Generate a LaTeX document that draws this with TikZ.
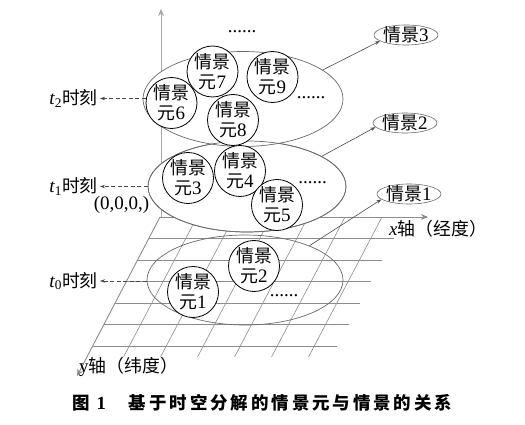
\documentclass[tikz,border=0pt]{standalone}
\usepackage{fontspec}
\setmainfont{Liberation Serif}
\newfontfamily\cjk{Noto Sans CJK SC}[Scale=0.94]
\usetikzlibrary{arrows.meta,shapes.geometric}
\definecolor{gridc}{HTML}{8C8C8C}
\definecolor{axisc}{HTML}{A8A8A8}
\definecolor{ellc}{HTML}{6A6A6A}
\definecolor{arrc}{HTML}{4A4A4A}
\newcommand\capk{\kern2.9pt}
\tikzset{
  txt/.style={font=\fontsize{19}{20}\selectfont, inner sep=0pt},
  elem/.style={circle, draw=black, line width=0.8pt, fill=white, minimum size=51pt,
    inner sep=0pt, align=center, font=\fontsize{19}{20}\selectfont},
  bigell/.style={ellipse, draw=ellc, line width=0.7pt, inner sep=0pt},
  labell/.style={ellipse, draw=ellc, line width=0.6pt, inner sep=0pt,
    minimum width=64pt, minimum height=20pt},
  gridline/.style={draw=gridc, line width=0.6pt},
  axisline/.style={draw=axisc, line width=0.9pt, -{Stealth[length=7pt,width=6pt]}},
  conn/.style={draw=arrc, line width=0.6pt, -{Stealth[length=5pt,width=3.5pt]}},
  dasharr/.style={draw=arrc, line width=0.6pt, dash pattern=on 4pt off 2.5pt,
    -{Stealth[length=5pt,width=3.5pt]}, shorten >=2pt},
  dotsnode/.style={txt, anchor=base},
}
\begin{document}
\begin{tikzpicture}[x=1pt,y=-1pt]
\useasboundingbox (0,0) rectangle (525,425);
% axes and grid
\coordinate (O) at (160,217);
\coordinate (Xend) at (428,217);
\coordinate (Yend) at (77,376);
\coordinate (Vbase) at (161,217);
\coordinate (Zend) at (161,9);
\draw[axisline] (Vbase) -- (Zend);
\foreach \k in {1,...,6}{
  \pgfmathsetmacro\yy{217+21.5*\k}
  \pgfmathsetmacro\xa{160-0.525*21.5*\k}
  \pgfmathsetmacro\xb{405-0.525*21.5*\k}
  \draw[gridline] (\xa,\yy) -- (\xb,\yy);
}
\foreach \j in {1,...,6}{
  \draw[gridline] ({160+37*\j},217) -- ({160+37*\j-0.525*140},357);
}
\draw[axisline, draw=gridc] (O) -- (Xend);
\draw[axisline, draw=gridc] (O) -- (Yend);
% bottom layer
\node[bigell, minimum width=196pt, minimum height=90pt] (E0) at (245,280) {};
\node[elem] (e1) at (193,292) {{\cjk 情景}\\{\cjk 元}1};
\node[elem] (e2) at (254,266) {{\cjk 情景}\\{\cjk 元}2};
\node[dotsnode] (d0) at (284,296.5) {......};
% middle and top ellipses (filled)
\node[bigell, fill=white, minimum width=198pt, minimum height=91pt] (E1) at (247,186.5) {};
\node[bigell, fill=white, minimum width=200pt, minimum height=95pt] (E2) at (243,99) {};
\draw[ellc, line width=0.7pt] (E1.center) ellipse [x radius=99, y radius=45.5];
% middle layer circles
\node[elem] (e3) at (188,178) {{\cjk 情景}\\{\cjk 元}3};
\node[elem] (e4) at (240,171) {{\cjk 情景}\\{\cjk 元}4};
\node[elem] (e5) at (277,205) {{\cjk 情景}\\{\cjk 元}5};
\node[dotsnode] (d1) at (312.5,183.5) {......};
% top layer circles
\node[elem] (e6) at (171.5,103) {{\cjk 情景}\\{\cjk 元}6};
\node[elem] (e7) at (212.5,71.5) {{\cjk 情景}\\{\cjk 元}7};
\node[elem] (e8) at (233,120) {{\cjk 情景}\\{\cjk 元}8};
\node[elem] (e9) at (272.5,77) {{\cjk 情景}\\{\cjk 元}9};
\node[dotsnode] (d2) at (311,98.5) {......};
\node[dotsnode] (d3) at (242,32.5) {......};
% scene labels
\node[labell] (s3) at (406,35) {};
\node[txt] (s3t) at (s3) {{\cjk 情景}3};
\node[labell] (s2) at (405,123) {};
\node[txt] (s2t) at (s2) {{\cjk 情景}2};
\node[labell] (s1) at (409,194) {};
\node[txt] (s1t) at (s1) {{\cjk 情景}1};
\draw[conn] (E2.20) -- (s3.193);
\draw[conn] (E1.22) -- (s2.188);
\draw[conn] (E0.28) -- (s1.191);
% time labels
\node[txt, anchor=east] (t2) at (98,98.5) {\textit{t}\textsubscript{2}{\cjk 时刻}};
\node[txt, anchor=east] (t1) at (98,186.5) {\textit{t}\textsubscript{1}{\cjk 时刻}};
\node[txt, anchor=east] (t0) at (98,281) {\textit{t}\textsubscript{0}{\cjk 时刻}};
\draw[dasharr] (e6.west |- t2.east) -- (t2.east);
\draw[dasharr] (E1.west) -- (t1.east |- E1.west);
\draw[dasharr] (E0.west |- t0.east) -- (t0.east);
\node[txt] (orig) at (121.5,205) {(0,0,0,)};
% axis labels
\node[txt, anchor=west] (xl) at (389,229) {\textit{x}{\cjk 轴（经度）}};
\node[txt, anchor=west] (yl) at (79,367) {y{\cjk 轴（纬度）}};
% caption
\node[txt, anchor=west, font=\bfseries\fontsize{18.6}{20}\selectfont] (cap) at (72,403)
  {{\cjk 图}\kern7pt 1\kern23pt{\cjk 基\capk 于\capk 时\capk 空\capk 分\capk 解\capk 的\capk 情\capk 景\capk 元\capk 与\capk 情\capk 景\capk 的\capk 关\capk 系}};
\end{tikzpicture}
\end{document}
